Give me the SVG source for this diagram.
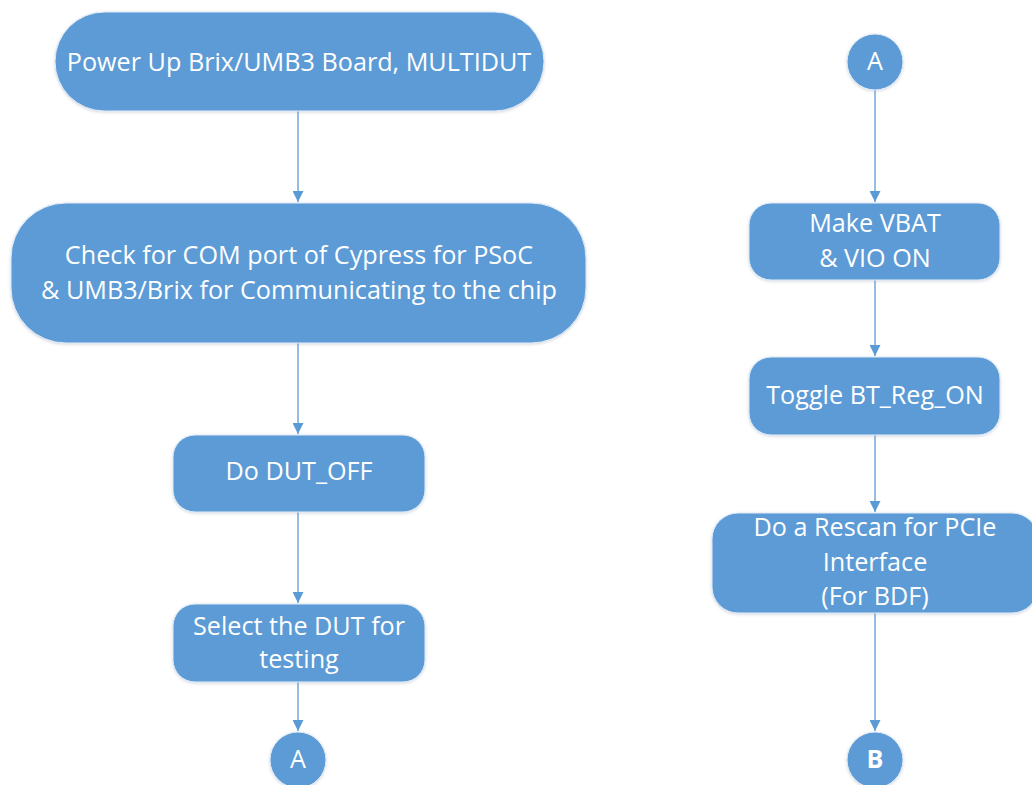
<svg xmlns="http://www.w3.org/2000/svg" width="1032" height="785" viewBox="0 0 1032 785">
  <style>
    .shape { fill: #5B9BD5; stroke: #E3ECF7; stroke-width: 1; filter: url(#soft); }
    .label { font-family: "Open Sans", "Liberation Sans", sans-serif; font-size: 25.2px; fill: #FFFFFF; text-anchor: middle; }
    .bold { font-weight: bold; }
    .edge { stroke: #5B9BD5; stroke-width: 1.3; fill: none; marker-end: url(#arrow); }
  </style>
  <defs>
    <filter id="soft" x="-10%" y="-10%" width="120%" height="130%">
      <feDropShadow dx="0" dy="1" stdDeviation="1.5" flood-color="#7F8FA6" flood-opacity="0.35"/>
    </filter>
    <marker id="arrow" viewBox="0 0 10 10" refX="10" refY="5" markerWidth="11" markerHeight="11" markerUnits="userSpaceOnUse" orient="auto">
      <path d="M0,0 L10,5 L0,10 z" fill="#5B9BD5"/>
    </marker>
  </defs>
  <rect width="1032" height="785" fill="#FFFFFF"/>

  <!-- connectors -->
  <g id="connectors">
    <line class="edge" x1="298" y1="111" x2="298" y2="202"/>
    <line class="edge" x1="298" y1="343" x2="298" y2="434"/>
    <line class="edge" x1="298" y1="512" x2="298" y2="603"/>
    <line class="edge" x1="298" y1="682" x2="298" y2="731"/>
    <line class="edge" x1="875" y1="90" x2="875" y2="202"/>
    <line class="edge" x1="875" y1="280" x2="875" y2="356"/>
    <line class="edge" x1="875" y1="435" x2="875" y2="512"/>
    <line class="edge" x1="875" y1="613" x2="875" y2="731"/>
  </g>

  <!-- left column -->
  <g id="power-up">
    <rect class="shape" x="55" y="12" width="489" height="99" rx="49.5" ry="49.5"/>
    <text class="label" x="299" y="71">Power Up Brix/UMB3 Board, MULTIDUT</text>
  </g>
  <g id="check-com">
    <rect class="shape" x="11" y="203" width="575" height="140" rx="55" ry="55"/>
    <text class="label" x="299" y="264">Check for COM port of Cypress for PSoC</text>
    <text class="label" x="299" y="299">&amp; UMB3/Brix for Communicating to the chip</text>
  </g>
  <g id="dut-off">
    <rect class="shape" x="173" y="435" width="252" height="77" rx="22" ry="22"/>
    <text class="label" x="299" y="480">Do DUT_OFF</text>
  </g>
  <g id="select-dut">
    <rect class="shape" x="173" y="604" width="252" height="78" rx="22" ry="22"/>
    <text class="label" x="299" y="635">Select the DUT for</text>
    <text class="label" x="299" y="668">testing</text>
  </g>
  <g id="connector-a-out">
    <circle class="shape" cx="298" cy="760" r="28"/>
    <text class="label" x="298" y="768">A</text>
  </g>

  <!-- right column -->
  <g id="connector-a-in">
    <circle class="shape" cx="875" cy="62" r="28"/>
    <text class="label" x="875" y="70">A</text>
  </g>
  <g id="vbat-vio">
    <rect class="shape" x="749" y="203" width="251" height="77" rx="22" ry="22"/>
    <text class="label" x="875" y="232">Make VBAT</text>
    <text class="label" x="875" y="267">&amp; VIO ON</text>
  </g>
  <g id="toggle-reg">
    <rect class="shape" x="749" y="357" width="251" height="78" rx="22" ry="22"/>
    <text class="label" x="875" y="404">Toggle BT_Reg_ON</text>
  </g>
  <g id="pcie-rescan">
    <rect class="shape" x="712" y="513" width="326" height="100" rx="26" ry="26"/>
    <text class="label" x="875" y="536">Do a Rescan for PCIe</text>
    <text class="label" x="875" y="571">Interface</text>
    <text class="label" x="875" y="605">(For BDF)</text>
  </g>
  <g id="connector-b">
    <circle class="shape" cx="875" cy="760" r="28"/>
    <text class="label bold" x="875" y="768">B</text>
  </g>
</svg>
